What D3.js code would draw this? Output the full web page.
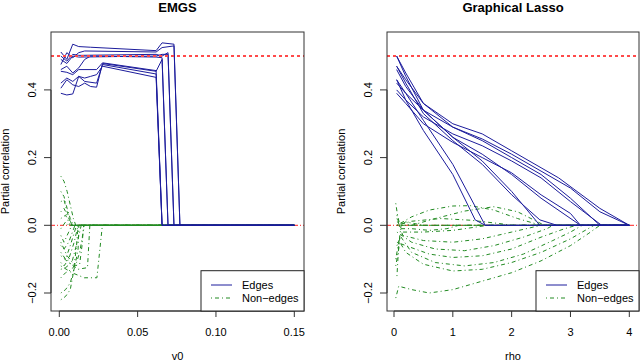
<!DOCTYPE html>
<html lang="en">
<head>
<meta charset="UTF-8">
<title>EMGS vs Graphical Lasso</title>
<script src="https://cdn.jsdelivr.net/npm/d3@7/dist/d3.min.js"></script>
<style>
  body { margin: 0; background: #fff; }
  text { font-family: "Liberation Sans", Arial, Helvetica, sans-serif; fill: #000; }
</style>
</head>
<body>
<div id="container"></div>
<script>
// ---- data ----
var yTicks = [-0.2, 0, 0.2, 0.4];
var emgsTicks = [0, 0.05, 0.10, 0.15];
var glassoTicks = [0, 1, 2, 3, 4];

// EMGS: partial correlation vs v0, each series is a list of [v0, pcor]
var emgsEdges = [
  [[0.001,0.512],[0.0048,0.49],[0.0086,0.535],[0.0124,0.528],[0.02,0.526],[0.0618,0.516],[0.0656,0.539],[0.0732,0.535],[0.077,0],[0.15,0]],
  [[0.001,0.475],[0.0048,0.51],[0.0086,0.495],[0.0124,0.51],[0.0162,0.515],[0.0618,0.512],[0.0656,0.525],[0.0732,0.53],[0.077,0],[0.15,0]],
  [[0.001,0.50],[0.0048,0.485],[0.0086,0.505],[0.0124,0.502],[0.0618,0.505],[0.0656,0.50],[0.0694,0.51],[0.0732,0],[0.15,0]],
  [[0.001,0.49],[0.0048,0.478],[0.0086,0.50],[0.0124,0.497],[0.0618,0.50],[0.0656,0.505],[0.0694,0.505],[0.0732,0],[0.15,0]],
  [[0.001,0.455],[0.0048,0.452],[0.0086,0.445],[0.0124,0.46],[0.0238,0.46],[0.0276,0.48],[0.0618,0.457],[0.0656,0],[0.15,0]],
  [[0.001,0.42],[0.0048,0.435],[0.0086,0.425],[0.0124,0.44],[0.0162,0.425],[0.0238,0.42],[0.0276,0.475],[0.0618,0.447],[0.0656,0],[0.15,0]],
  [[0.001,0.39],[0.0048,0.385],[0.0086,0.388],[0.0124,0.44],[0.0162,0.435],[0.02,0.44],[0.0238,0.445],[0.0276,0.47],[0.0618,0.437],[0.0656,0],[0.15,0]],
  [[0.001,0.405],[0.0048,0.43],[0.0086,0.415],[0.0124,0.41],[0.0162,0.42],[0.02,0.41],[0.0238,0.408],[0.0276,0.478],[0.0618,0.455],[0.0656,0.49],[0.0694,0],[0.15,0]],
  [[0.001,0.46],[0.0048,0.47],[0.0086,0.45],[0.0124,0.465],[0.0162,0.49],[0.02,0.50],[0.0618,0.497],[0.0656,0.495],[0.0694,0],[0.15,0]]
];
var emgsNonEdges = [
  [[0.001,0.145],[0.003,0.13],[0.005,0.10],[0.007,0.06],[0.009,0.02],[0.0105,0],[0.15,0]],
  [[0.001,0.10],[0.003,0.085],[0.005,0.05],[0.007,0.02],[0.009,0],[0.15,0]],
  [[0.001,0.07],[0.003,0.075],[0.005,0.04],[0.008,0],[0.15,0]],
  [[0.001,0.04],[0.003,0.05],[0.006,0.02],[0.0085,0],[0.15,0]],
  [[0.001,0.02],[0.004,0.03],[0.007,0],[0.15,0]],
  [[0.001,-0.01],[0.004,0.01],[0.006,0],[0.15,0]],
  [[0.001,-0.03],[0.003,-0.05],[0.006,-0.02],[0.008,0],[0.15,0]],
  [[0.001,-0.06],[0.003,-0.07],[0.006,-0.05],[0.01,0],[0.15,0]],
  [[0.001,-0.08],[0.004,-0.10],[0.007,-0.06],[0.011,0],[0.15,0]],
  [[0.001,-0.11],[0.003,-0.12],[0.006,-0.10],[0.0095,-0.05],[0.012,0],[0.15,0]],
  [[0.001,-0.13],[0.004,-0.125],[0.008,-0.11],[0.012,-0.04],[0.014,0],[0.15,0]],
  [[0.001,-0.155],[0.004,-0.14],[0.008,-0.13],[0.011,-0.11],[0.013,-0.08],[0.016,0],[0.15,0]],
  [[0.001,-0.20],[0.004,-0.19],[0.007,-0.17],[0.010,-0.12],[0.012,-0.07],[0.0125,0],[0.15,0]],
  [[0.001,-0.22],[0.004,-0.21],[0.007,-0.19],[0.009,-0.14],[0.011,-0.06],[0.012,0],[0.15,0]],
  [[0.001,-0.05],[0.005,-0.09],[0.010,-0.12],[0.013,-0.115],[0.0145,-0.06],[0.0155,0],[0.15,0]],
  [[0.001,-0.09],[0.006,-0.11],[0.012,-0.13],[0.018,-0.125],[0.0195,0],[0.15,0]],
  [[0.001,-0.12],[0.008,-0.14],[0.016,-0.155],[0.024,-0.155],[0.0275,0],[0.15,0]]
];

// Graphical lasso: partial correlation vs rho
var glassoEdges = [
  [[0.045,0.43],[0.2,0.37],[0.5,0.28],[1.0,0.15],[1.38,0.016],[1.55,0],[4,0]],
  [[0.045,0.42],[0.2,0.39],[0.5,0.31],[1.0,0.18],[1.55,0],[4,0]],
  [[0.045,0.50],[0.2,0.44],[0.5,0.34],[1.0,0.26],[1.5,0.19],[2.0,0.10],[2.48,0],[4,0]],
  [[0.045,0.47],[0.2,0.42],[0.5,0.33],[1.0,0.25],[1.5,0.18],[2.0,0.09],[2.48,0.016],[2.77,0],[4,0]],
  [[0.045,0.46],[0.2,0.41],[0.5,0.34],[1.0,0.26],[1.5,0.21],[2.0,0.15],[2.5,0.08],[3.17,0],[4,0]],
  [[0.045,0.39],[0.2,0.36],[0.5,0.30],[1.0,0.245],[1.5,0.20],[2.0,0.155],[2.5,0.09],[3.0,0.035],[3.17,0],[4,0]],
  [[0.045,0.50],[0.2,0.45],[0.5,0.36],[1.0,0.29],[1.5,0.25],[2.0,0.20],[2.5,0.15],[3.0,0.08],[3.5,0],[4,0]],
  [[0.045,0.40],[0.2,0.37],[0.5,0.32],[1.0,0.27],[1.5,0.235],[2.0,0.19],[2.5,0.14],[3.0,0.07],[3.53,0],[4,0]],
  [[0.045,0.47],[0.2,0.43],[0.5,0.36],[1.0,0.30],[1.5,0.27],[2.0,0.22],[2.5,0.17],[2.8,0.14],[3.5,0.05],[4,0]],
  [[0.045,0.43],[0.2,0.39],[0.5,0.34],[1.0,0.29],[1.5,0.255],[2.0,0.21],[2.5,0.16],[3.0,0.11],[3.5,0.04],[4,0]]
];
var glassoNonEdges = [
  [[0.05,0],[0.3,0.025],[0.6,0.045],[1.0,0.057],[1.3,0.058],[1.7,0.045],[2.1,0.02],[2.5,0],[4,0]],
  [[0.05,0.01],[0.3,0],[0.7,0.02],[1.2,0.042],[1.7,0.055],[2.1,0.04],[2.5,0.005],[2.55,0],[4,0]],
  [[0.05,0],[0.3,0.012],[0.8,0.02],[1.3,0.015],[1.8,0.005],[2.0,0],[4,0]],
  [[0.03,0.065],[0.06,0.03],[0.1,0],[0.2,0.01],[0.5,0],[4,0]],
  [[0.03,-0.215],[0.08,-0.18],[0.3,-0.19],[0.6,-0.20],[1.0,-0.19],[1.5,-0.165],[2.0,-0.14],[2.5,-0.105],[3.0,-0.06],[3.3,-0.025],[3.5,0],[4,0]],
  [[0.03,-0.12],[0.1,-0.05],[0.2,-0.08],[0.5,-0.115],[1.0,-0.135],[1.5,-0.13],[2.0,-0.11],[2.5,-0.08],[3.0,-0.04],[3.4,0],[4,0]],
  [[0.03,-0.10],[0.1,-0.03],[0.3,-0.08],[0.7,-0.11],[1.2,-0.12],[1.7,-0.11],[2.2,-0.085],[2.7,-0.045],[3.0,-0.02],[3.2,0],[4,0]],
  [[0.05,-0.05],[0.2,-0.06],[0.6,-0.085],[1.0,-0.095],[1.5,-0.09],[2.0,-0.07],[2.5,-0.035],[2.9,-0.01],[3.1,0],[4,0]],
  [[0.05,-0.02],[0.3,-0.05],[0.7,-0.07],[1.2,-0.075],[1.7,-0.06],[2.2,-0.035],[2.6,-0.01],[2.7,0],[4,0]],
  [[0.05,0.02],[0.15,-0.03],[0.5,-0.045],[1.0,-0.05],[1.5,-0.04],[2.0,-0.02],[2.5,0],[4,0]],
  [[0.05,-0.06],[0.15,-0.02],[0.5,-0.02],[1.0,-0.015],[1.4,-0.005],[1.6,0],[4,0]],
  [[0.05,0.03],[0.1,-0.01],[0.3,-0.01],[0.6,-0.015],[0.9,-0.01],[1.1,0],[4,0]],
  [[0.05,-0.15],[0.08,-0.06],[0.12,0],[4,0]],
  [[0.05,0],[4,0]]
];

// ---- drawing ----
var width = 640, height = 363;
var svg = d3.select("#container").append("svg")
    .attr("width", width)
    .attr("height", height);

var blue = "#1c1c9c", green = "#228b22";

function drawPanel(p) {
  var x = d3.scaleLinear().domain(p.xDomain).range(p.xRange);
  var y = d3.scaleLinear().domain([0, 0.4]).range([225.3, 89.9]);
  var g = svg.append("g");
  var clipId = "clip" + p.id;
  g.append("clipPath").attr("id", clipId)
    .append("rect").attr("x", p.left).attr("y", p.top)
    .attr("width", p.right - p.left).attr("height", p.bottom - p.top);
  var plot = g.append("g").attr("clip-path", "url(#" + clipId + ")");

  // zero reference line (under data)
  plot.append("line")
      .attr("x1", p.left).attr("x2", p.right)
      .attr("y1", y(0)).attr("y2", y(0))
      .attr("stroke", "#ff2020").attr("stroke-width", 1)
      .attr("stroke-dasharray", "4,2,1,2");

  var line = d3.line().x(d => x(d[0])).y(d => y(d[1]));

  plot.selectAll(".ne").data(p.nonEdges).enter().append("path")
      .attr("d", line)
      .attr("fill", "none")
      .attr("stroke", green)
      .attr("stroke-width", 1)
      .attr("stroke-dasharray", "1,3,4,3");

  plot.selectAll(".ed").data(p.edges).enter().append("path")
      .attr("d", line)
      .attr("fill", "none")
      .attr("stroke", blue)
      .attr("stroke-width", 1);

  // 0.5 reference line
  plot.append("line")
      .attr("x1", p.left).attr("x2", p.right)
      .attr("y1", y(0.5)).attr("y2", y(0.5))
      .attr("stroke", "#ff4a4a").attr("stroke-width", 2)
      .attr("stroke-dasharray", "3,3");

  // box
  g.append("rect")
      .attr("x", p.left).attr("y", p.top)
      .attr("width", p.right - p.left).attr("height", p.bottom - p.top)
      .attr("fill", "none").attr("stroke", "#333").attr("stroke-width", 1);

  // x axis
  var xa = g.append("g");
  xa.append("line")
      .attr("x1", x(p.xTicks[0])).attr("x2", x(p.xTicks[p.xTicks.length - 1]))
      .attr("y1", p.bottom).attr("y2", p.bottom).attr("stroke", "#333");
  xa.selectAll("line.t").data(p.xTicks).enter().append("line")
      .attr("x1", d => x(d)).attr("x2", d => x(d))
      .attr("y1", p.bottom).attr("y2", p.bottom + 6).attr("stroke", "#333");
  xa.selectAll("text").data(p.xTicks).enter().append("text")
      .attr("x", d => x(d)).attr("y", 335.5)
      .attr("text-anchor", "middle").attr("font-size", 11)
      .text(p.xFormat);

  // y axis
  var ya = g.append("g");
  ya.append("line")
      .attr("x1", p.left).attr("x2", p.left)
      .attr("y1", y(-0.2)).attr("y2", y(0.4)).attr("stroke", "#333");
  ya.selectAll("line.t").data(yTicks).enter().append("line")
      .attr("x1", p.left - 7).attr("x2", p.left)
      .attr("y1", d => y(d)).attr("y2", d => y(d)).attr("stroke", "#333");
  ya.selectAll("text").data(yTicks).enter().append("text")
      .attr("transform", d => "translate(" + (p.left - 19.3) + "," + y(d) + ") rotate(-90)")
      .attr("text-anchor", "middle").attr("dy", "0.36em").attr("font-size", 11)
      .text(d => d3.format(".1f")(d).replace("-", "\u2212"));

  // labels
  g.append("text")
      .attr("x", (p.left + p.right) / 2).attr("y", 11.5)
      .attr("text-anchor", "middle").attr("font-size", 13).attr("font-weight", "bold")
      .text(p.title);
  g.append("text")
      .attr("x", (p.left + p.right) / 2).attr("y", 360)
      .attr("text-anchor", "middle").attr("font-size", 11)
      .text(p.xLabel);
  g.append("text")
      .attr("transform", "translate(" + (p.left - 45.5) + "," + ((p.top + p.bottom) / 2) + ") rotate(-90)")
      .attr("text-anchor", "middle").attr("dy", "0.36em").attr("font-size", 11)
      .text("Partial correlation");

  // legend (bottom right)
  var lw = 103, lh = 40.3;
  var lx = p.right - lw, ly = p.bottom - lh;
  var lg = g.append("g");
  lg.append("rect").attr("x", lx).attr("y", ly).attr("width", lw).attr("height", lh)
      .attr("fill", "#fff").attr("stroke", "#222");
  var items = [["Edges", blue, null], ["Non\u2212edges", green, "1,3,4,3"]];
  items.forEach(function(it, i) {
    var yy = ly + 14.3 + i * 13;
    lg.append("line").attr("x1", lx + 10).attr("x2", lx + 31)
        .attr("y1", yy).attr("y2", yy)
        .attr("stroke", it[1]).attr("stroke-width", 1)
        .attr("stroke-dasharray", it[2]);
    lg.append("text").attr("x", lx + 41).attr("y", yy).attr("dy", "0.36em")
        .attr("font-size", 11).text(it[0]);
  });
}

drawPanel({
  id: "a", title: "EMGS", xLabel: "v0",
  left: 51, right: 304, top: 32, bottom: 311,
  xDomain: [0, 0.15], xRange: [59.3, 294.3],
  xTicks: emgsTicks, xFormat: d => d3.format(".2f")(d),
  edges: emgsEdges, nonEdges: emgsNonEdges
});
drawPanel({
  id: "b", title: "Graphical Lasso", xLabel: "rho",
  left: 387, right: 639, top: 32, bottom: 311,
  xDomain: [0, 4], xRange: [394, 629.3],
  xTicks: glassoTicks, xFormat: d => String(d),
  edges: glassoEdges, nonEdges: glassoNonEdges
});
</script>
</body>
</html>
